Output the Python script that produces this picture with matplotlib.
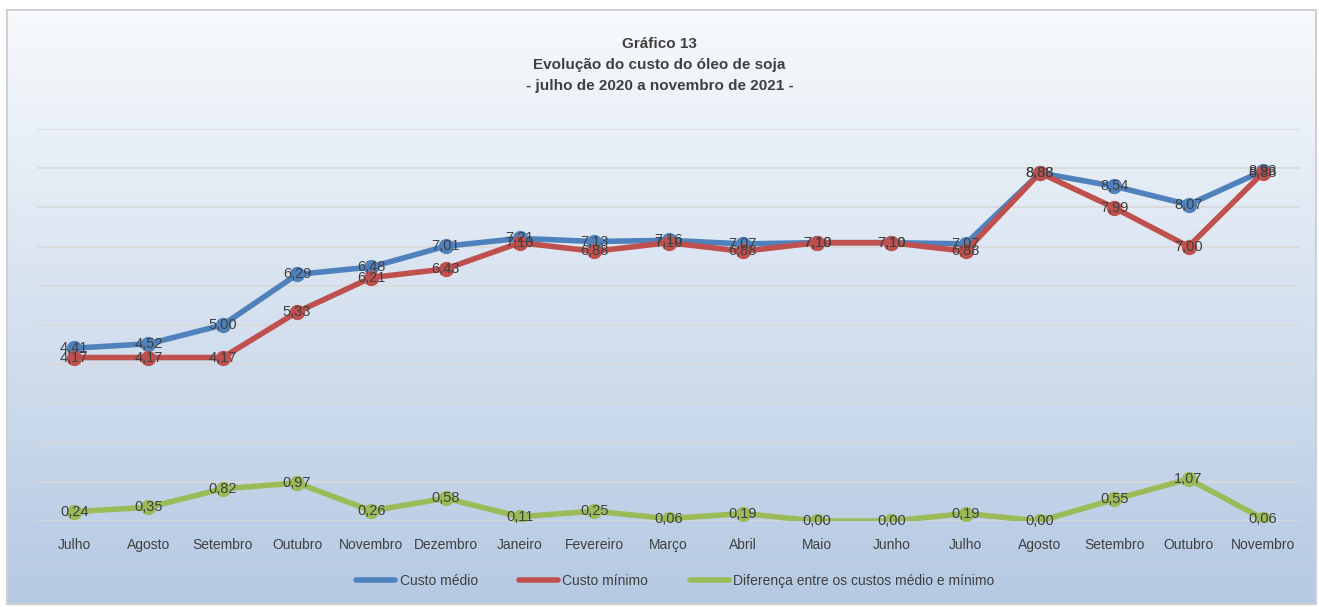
import numpy as np
import matplotlib
matplotlib.use("Agg")
from matplotlib import pyplot as plt
from matplotlib.patches import Rectangle
from matplotlib.lines import Line2D

plt.rcParams['font.family'] = ['Liberation Sans Narrow', 'Liberation Sans', 'DejaVu Sans']

months = ["Julho", "Agosto", "Setembro", "Outubro", "Novembro", "Dezembro",
          "Janeiro", "Fevereiro", "Março", "Abril", "Maio", "Junho",
          "Julho", "Agosto", "Setembro", "Outubro", "Novembro"]
custo_medio = [4.41, 4.52, 5.00, 6.29, 6.48, 7.01, 7.21, 7.13, 7.16, 7.07, 7.10, 7.10,
               7.07, 8.88, 8.54, 8.07, 8.93]
custo_minimo = [4.17, 4.17, 4.17, 5.33, 6.21, 6.43, 7.10, 6.88, 7.10, 6.88, 7.10, 7.10,
                6.88, 8.88, 7.99, 7.00, 8.88]
diferenca = [0.24, 0.35, 0.82, 0.97, 0.26, 0.58, 0.11, 0.25, 0.06, 0.19, 0.00, 0.00,
             0.19, 0.00, 0.55, 1.07, 0.06]

series = [("Custo médio", custo_medio, "#4f81bd"),
          ("Custo mínimo", custo_minimo, "#c0504d"),
          ("Diferença entre os custos médio e mínimo", diferenca, "#9bbb59")]

W, H = 1319, 607
fig = plt.figure(figsize=(W/100, H/100), dpi=100)

# gradient background inside the frame
bg = fig.add_axes([7/W, 1-604/H, (1316-7)/W, (604-10)/H])
grad = np.linspace(0, 1, 256)[:, None]
top = np.array([0.97, 0.98, 0.99])
bot = np.array([0.71, 0.79, 0.89])
img = top + (bot - top) * grad[..., None]
bg.imshow(img, aspect="auto", extent=[0, 1, 0, 1], origin="upper")
bg.set_axis_off()
fig.patches.append(Rectangle((7/W, 1-604/H), (1316-7)/W, (604-10)/H, transform=fig.transFigure,
                             fill=False, edgecolor="#d0d0d0", linewidth=1.5, zorder=10))

ax = fig.add_axes([37/W, 1-521/H, (1300-37)/W, (521-129)/H])
ax.set_facecolor("none")
x = np.arange(len(months))
for name, vals, c in series:
    ax.plot(x, vals, color=c, lw=4, marker="o", ms=10, solid_capstyle="round", zorder=3)
for name, vals, c in series:
    for xi, v in zip(x, vals):
        ax.text(xi, v, f"{v:.2f}".replace(".", ","), ha="center", va="center",
                fontsize=10.5, color="#404040", zorder=5)

ax.set_xlim(-0.5, len(months)-0.5)
ax.set_ylim(0, 10)
ax.set_yticks(np.arange(0, 11, 1))
ax.yaxis.grid(True, color="#d9d9d9", lw=1.2, zorder=0)
ax.set_axisbelow(True)
ax.tick_params(axis="y", left=False, labelleft=False)
ax.tick_params(axis="x", length=0, pad=12, labelsize=10, labelcolor="#404040")
ax.set_xticks(x)
ax.set_xticklabels(months)
for s in ax.spines.values():
    s.set_visible(False)

fig.text(0.5, 1-44/H, "Gráfico 13", ha="center", va="center", fontsize=11, fontweight="bold", color="#404040")
fig.text(0.5, 1-65/H, "Evolução do custo do óleo de soja", ha="center", va="center", fontsize=11, fontweight="bold", color="#404040")
fig.text(0.5, 1-86/H, "- julho de 2020 a novembro de 2021 -", ha="center", va="center", fontsize=11, fontweight="bold", color="#404040")

handles = [Line2D([], [], color=c, lw=4, solid_capstyle="round") for _, _, c in series]
fig.legend(handles, [n for n, _, _ in series], loc="center", bbox_to_anchor=(0.512, 1-581/H),
           ncol=3, frameon=False, fontsize=10, labelcolor="#404040", handlelength=2.8,
           handletextpad=0.3, columnspacing=3)

fig.savefig("out.png", dpi=100)
